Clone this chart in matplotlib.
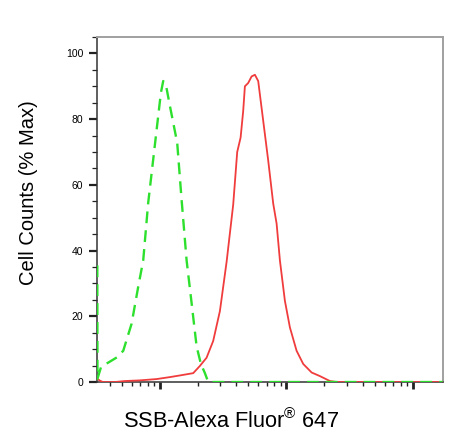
import numpy as np
import matplotlib
matplotlib.use('Agg')
import matplotlib.pyplot as plt
from matplotlib.ticker import LogLocator, MultipleLocator, NullFormatter

plt.rcParams['font.family'] = ['Liberation Sans', 'DejaVu Sans']
plt.rcParams['mathtext.fontset'] = 'custom'
plt.rcParams['mathtext.rm'] = 'Liberation Sans'

# isotype control (green dashed)
ctrl_x = [32, 32.1, 34.2, 35.6, 40.2, 45.7, 51.3, 59.7, 67.4, 73.8, 80.8, 88.5,
          97, 101.8, 106.2, 111.5, 120, 137, 148.4, 162.6, 178.1, 195.1, 210.9,
          226.9, 240.9, 17180]
ctrl_y = [35.5, 1, 4.5, 5, 6.2, 7.5, 9.5, 17.7, 29, 37, 54.5, 67.7,
          81, 88, 91.6, 90.5, 84, 72.8, 55.5, 37, 24, 10.8, 5.5,
          2.7, 0, 0]

# SSB stained sample (red)
ssb_x = [32, 33.6, 35.4, 44.1, 52.9, 69.5, 94.2, 120, 143.9, 183.4, 207.1, 233.9,
         263.8, 298.1, 336.8, 379.7, 408.4, 434.5, 455.5, 469.8, 498.9, 530.8,
         563.7, 598.5, 655.6, 718.1, 786.6, 836.7, 888.5, 973, 1066, 1204, 1358,
         1582, 1840, 2208, 2507, 17180]
ssb_y = [1.0, 0.4, 0, 0, 0.3, 0.5, 0.9, 1.5, 2, 2.7, 4.9, 7.4,
         12.5, 21.6, 36.6, 54, 70, 74.4, 82.5, 90, 91, 93,
         93.5, 91.6, 79.5, 67.4, 54.3, 48.2, 37, 24.7, 16.6, 9.5, 5.5,
         2.9, 1.8, 0.3, 0, 0]

y_ticks = [0, 20, 40, 60, 80, 100]

fig = plt.figure(figsize=(4.64, 4.42), dpi=100)
ax = fig.add_axes([0.2097, 0.1357, 0.7444, 0.7806])

ax.plot(ssb_x, ssb_y, color='#f03c3c', lw=1.3, zorder=3)
ax.plot(ctrl_x, ctrl_y, color='#2ee02e', lw=1.7, dashes=(5, 3), zorder=4)

ax.set_xscale('log')
ax.set_xlim(32, 17200)
ax.set_ylim(0, 105)

ax.xaxis.set_major_locator(LogLocator(base=10, numticks=10))
ax.xaxis.set_minor_locator(LogLocator(base=10, subs=np.arange(2, 10), numticks=20))
ax.xaxis.set_major_formatter(NullFormatter())
ax.xaxis.set_minor_formatter(NullFormatter())

ax.set_yticks(y_ticks)
ax.yaxis.set_minor_locator(MultipleLocator(5))

ax.tick_params(axis='y', which='major', direction='out', length=6, width=1.6,
               labelsize=7.5, pad=4, color='#222222')
ax.tick_params(axis='y', which='minor', direction='out', length=3.5, width=0.9,
               color='#222222')
ax.tick_params(axis='x', which='major', direction='out', length=5, width=2,
               color='#222222')
ax.tick_params(axis='x', which='minor', direction='out', length=3, width=1,
               color='#222222')

for side in ['left', 'bottom']:
    ax.spines[side].set_color('#333333')
    ax.spines[side].set_linewidth(1.1)
for side in ['top', 'right']:
    ax.spines[side].set_color('#a0a0a0')
    ax.spines[side].set_linewidth(1.4)

ax.set_ylabel('Cell Counts (% Max)', fontsize=14.5)
ax.yaxis.set_label_coords(-0.173, 0.548)
ax.set_xlabel(r'SSB-Alexa Fluor$^{\mathrm{®}}$ 647', fontsize=15.7)
ax.xaxis.set_label_coords(0.387, -0.078)

fig.savefig('out.png', dpi=100)
